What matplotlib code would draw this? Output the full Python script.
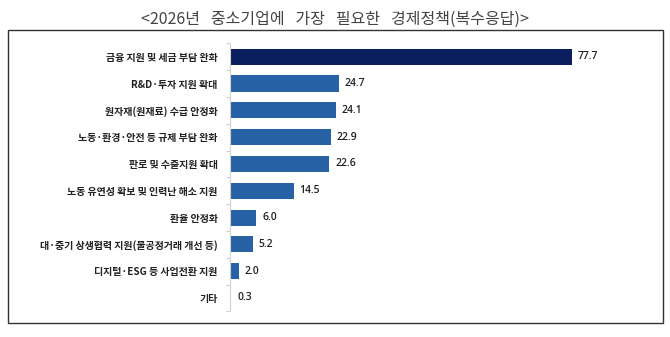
import matplotlib
matplotlib.use("Agg")
import matplotlib.pyplot as plt
from matplotlib.patches import Rectangle

plt.rcParams['font.family'] = ['Noto Sans CJK KR', 'DejaVu Sans']

title = "<2026년   중소기업에   가장   필요한   경제정책(복수응답)>"
categories = [
    "금융 지원 및 세금 부담 완화",
    "R&D·투자 지원 확대",
    "원자재(원재료) 수급 안정화",
    "노동·환경·안전 등 규제 부담 완화",
    "판로 및 수출지원 확대",
    "노동 유연성 확보 및 인력난 해소 지원",
    "환율 안정화",
    "대·중기 상생협력 지원(불공정거래 개선 등)",
    "디지털·ESG 등 사업전환 지원",
    "기타",
]
values = [77.7, 24.7, 24.1, 22.9, 22.6, 14.5, 6.0, 5.2, 2.0, 0.3]

navy = "#0b1f5e"
blue = "#2762a6"
colors = [navy] + [blue] * (len(values) - 1)

fig = plt.figure(figsize=(6.7, 3.37), dpi=100)
ax = fig.add_axes([230/670, 1 - 311.4/337, 396/670, (311.4 - 43.3)/337])

y = list(range(len(categories)))
ax.barh(y, values, height=0.6, color=colors)
ax.set_xlim(0, 90)
ax.set_ylim(len(categories) - 0.5, -0.5)

ax.set_yticks(y)
ax.set_yticklabels(categories, fontsize=7.2, fontweight='bold', color='#222222')
ax.tick_params(axis='y', which='major', length=0, pad=9)
ax.set_yticks([i - 0.5 for i in range(len(categories) + 1)], minor=True)
ax.tick_params(axis='y', which='minor', length=3, color='#d0d0d0', width=0.8)
ax.set_xticks([])
for s in ['top', 'right', 'bottom']:
    ax.spines[s].set_visible(False)
ax.spines['left'].set_color('#d0d0d0')
ax.spines['left'].set_linewidth(0.8)

for yi, v in zip(y, values):
    ax.text(v + 1.3, yi, f"{v:.1f}", va='center', ha='left', fontsize=7.5,
            color='#222222', family=['Open Sans', 'DejaVu Sans'], fontweight='semibold')

fig.patches.append(Rectangle((8/670, 1 - 323/337), 655/670, 293/337,
                             transform=fig.transFigure, fill=False,
                             edgecolor='#333333', linewidth=1.0))

fig.text(335/670, 1 - 19/337, title, ha='center', va='center', fontsize=11.5,
         color='#444444')

fig.savefig("out.png", dpi=100)
